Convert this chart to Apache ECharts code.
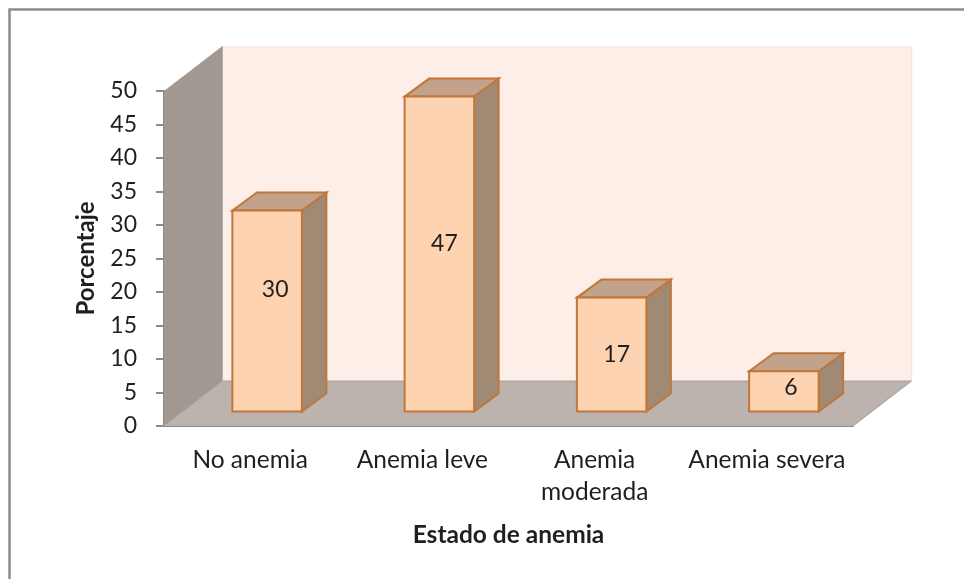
<!DOCTYPE html>
<html><head><meta charset="utf-8">
<style>html,body{margin:0;padding:0;background:#fff}#c{width:964px;height:579px}</style>
<script src="https://cdn.jsdelivr.net/npm/echarts@6/dist/echarts.min.js"></script>
</head><body><div id="c"></div>
<script>
const categories = ['No anemia', 'Anemia leve', 'Anemia\nmoderada', 'Anemia severa'];
const porcentaje = [30, 47, 17, 6];
const yTicks = [0, 5, 10, 15, 20, 25, 30, 35, 40, 45, 50];

const font = 'Lato';
const DEPTH_X = 58.5, DEPTH_Y = 45;        // wall depth
const BAR_DX = 17, BAR_LIFT = 14.5;        // bar offset inside the floor
const BAR_DEPTH_X = 24.5, BAR_DEPTH_Y = 18;
const BAR_W = 69.5;
const LABEL_SHIFT = [[8, -21], [5, -10], [5, 0], [7, -4]];

const chart = echarts.init(document.getElementById('c'), null, {renderer: 'canvas'});

function poly(points, fill, stroke, lw) {
  return {type: 'polygon', shape: {points}, style: {fill, stroke: stroke || null, lineWidth: lw || 0}};
}

function renderWalls(params, api) {
  const o = api.coord([0, 0]);
  const top = api.coord([0, 50]);
  const w = params.coordSys.width;
  const x0 = params.coordSys.x, x1 = x0 + w, y0 = o[1], y1 = top[1];
  const dx = DEPTH_X, dy = DEPTH_Y;
  return {type: 'group', children: [
    poly([[x0 + dx, y1 - dy], [x1 + dx, y1 - dy], [x1 + dx, y0 - dy], [x0 + dx, y0 - dy]], '#feeee8'),
    {type: 'line', shape: {x1: x1 + dx, y1: y1 - dy, x2: x1 + dx, y2: y0 - dy}, style: {stroke: '#f3e5df', lineWidth: 1.5}},
    poly([[x0, y1], [x0 + dx, y1 - dy], [x0 + dx, y0 - dy], [x0, y0]], '#a19892'),
    poly([[x0, y0], [x1, y0], [x1 + dx, y0 - dy], [x0 + dx, y0 - dy]], '#bdb3ae'),
    {type: 'line', shape: {x1: x0 + dx, y1: y0 - dy, x2: x1 + dx, y2: y0 - dy}, style: {stroke: '#a8a29e', lineWidth: 1}},
    {type: 'line', shape: {x1: x0, y1: y0, x2: x0 + dx, y2: y0 - dy}, style: {stroke: '#a8a29e', lineWidth: 1}},
    {type: 'line', shape: {x1: x0 + dx, y1: y1 - dy, x2: x0 + dx, y2: y0 - dy}, style: {stroke: '#b5aeaa', lineWidth: 1}},
    {type: 'line', shape: {x1: x1, y1: y0, x2: x1 + dx, y2: y0 - dy}, style: {stroke: '#a09a96', lineWidth: 1}}
  ]};
}

function renderBar(params, api) {
  const i = api.value(0), v = api.value(1);
  const p = api.coord([i, v]), b = api.coord([i, 0]);
  const cx = p[0] + BAR_DX;
  const l = cx - BAR_W / 2, r = cx + BAR_W / 2;
  const t = p[1] - BAR_LIFT, bt = b[1] - BAR_LIFT;
  const dx = BAR_DEPTH_X, dy = BAR_DEPTH_Y;
  const st = '#c0773b';
  const shift = LABEL_SHIFT[i];
  return {type: 'group', children: [
    poly([[r, t], [r + dx, t - dy], [r + dx, bt - dy], [r, bt]], '#a08a73', st, 2),
    poly([[l, t], [l + dx, t - dy], [r + dx, t - dy], [r, t]], '#c2a28a', st, 2),
    poly([[l, t], [r, t], [r, bt], [l, bt]], '#fdd3b2', st, 2),
    {type: 'text', style: {text: String(v), x: cx + shift[0], y: (t + bt) / 2 + shift[1],
      align: 'center', verticalAlign: 'middle', fill: '#1f1f1f', font: '23px ' + font}}
  ]};
}

chart.setOption({
  animation: false,
  backgroundColor: '#fff',
  textStyle: {fontFamily: font},
  grid: {left: 164, top: 91, width: 689, height: 335},
  graphic: [{
    type: 'polyline', silent: true, z: 10,
    shape: {points: [[9.5, 579], [9.5, 9.5], [964, 9.5]]},
    style: {fill: null, stroke: '#8c8c8c', lineWidth: 2.5}
  }],
  xAxis: {
    type: 'category', data: categories, boundaryGap: true,
    name: 'Estado de anemia', nameLocation: 'middle', nameGap: 97,
    nameTextStyle: {fontSize: 24.5, fontWeight: 'bold', color: '#1f1f1f', fontFamily: font},
    axisTick: {show: false},
    axisLine: {show: true, lineStyle: {color: '#8a8a8a', width: 2}},
    axisLabel: {fontSize: 24.5, color: '#1f1f1f', fontFamily: font, margin: 18.5, lineHeight: 32, interval: 0},
    splitLine: {show: false}
  },
  yAxis: {
    type: 'value', min: 0, max: 50, interval: 5,
    name: 'Porcentaje', nameLocation: 'middle', nameGap: 66, nameRotate: 90,
    nameTextStyle: {fontSize: 24, fontWeight: 'bold', color: '#1f1f1f', fontFamily: font},
    axisLine: {show: true, lineStyle: {color: '#8a8a8a', width: 2}},
    axisTick: {show: true, length: 8, lineStyle: {color: '#8a8a8a', width: 2}},
    axisLabel: {fontSize: 23, color: '#1f1f1f', fontFamily: font, margin: 27,
      customValues: yTicks},
    splitLine: {show: false}
  },
  series: [
    {type: 'custom', coordinateSystem: 'cartesian2d', data: [[0, 0]], renderItem: renderWalls, z: 1, silent: true, clip: false},
    {type: 'custom', coordinateSystem: 'cartesian2d', data: porcentaje.map((v, i) => [i, v]),
      encode: {x: 0, y: 1}, renderItem: renderBar, z: 3, silent: true, clip: false}
  ]
});
</script></body></html>
